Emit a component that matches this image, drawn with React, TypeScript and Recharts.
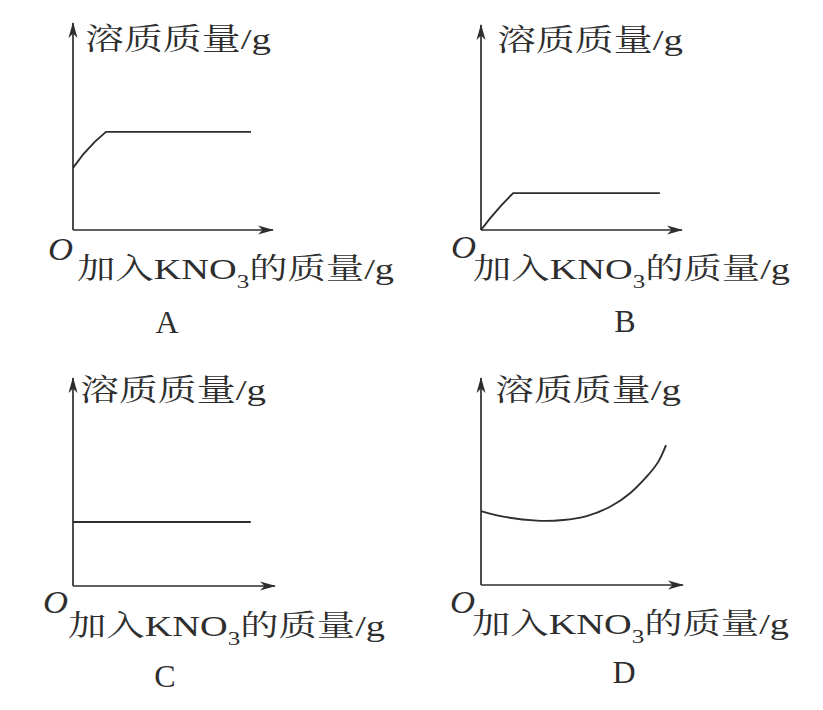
import { LineChart, Line, XAxis, YAxis } from 'recharts';

const FONT = "'Liberation Serif', 'Noto Serif CJK SC', 'Noto Sans CJK SC', serif";
const INK = '#2e2e2e';

const yTitle = '溶质质量/g';
const xTitleHead = '加入KNO';
const xTitleSub = '3';
const xTitleTail = '的质量/g';
const originMark = 'O';

// A: starts above zero, rises, then levels off
const aX = [0, 0.52, 1.1, 1.65, 8.9];
const aY = [3.0, 3.67, 4.27, 4.74, 4.74];
// B: starts at zero, rises, then levels off
const bX = [0, 0.45, 1.0, 1.6, 8.9];
const bY = [0, 0.57, 1.19, 1.8, 1.8];
// C: flat
const cX = [0, 8.8];
const cY = [3.08, 3.08];
// D: dips slightly then climbs
const dX = [0, 1.1, 2.76, 4.07, 5.23, 6.39, 7.38, 8.2, 8.78, 9.16];
const dY = [3.57, 3.3, 3.11, 3.14, 3.33, 3.78, 4.43, 5.23, 5.96, 6.76];

// layout only: chart box, plot margins, text offsets from the origin / plot top
const panels = [
  { name: 'A', xs: aX, ys: aY, curve: 'linear', box: { left: 0, top: 0, w: 410, h: 350 }, margin: { top: 23, left: 73, right: 137, bottom: 120 }, yT: [12, 26], o: [-25, 30], xT: [4, 49], nm: [94, 103] },
  { name: 'B', xs: bX, ys: bY, curve: 'linear', box: { left: 410, top: 0, w: 413, h: 350 }, margin: { top: 25, left: 71, right: 141, bottom: 120 }, yT: [16, 25], o: [-30, 28], xT: [-8, 49], nm: [144, 102] },
  { name: 'C', xs: cX, ys: cY, curve: 'linear', box: { left: 0, top: 350, w: 410, h: 360 }, margin: { top: 28, left: 73, right: 135, bottom: 124 }, yT: [7, 22], o: [-30, 27], xT: [-5, 50], nm: [92, 101] },
  { name: 'D', xs: dX, ys: dY, curve: 'natural', box: { left: 410, top: 350, w: 413, h: 360 }, margin: { top: 28, left: 71, right: 140, bottom: 125 }, yT: [14, 22], o: [-31, 28], xT: [-9, 49], nm: [143, 98] },
];

const AX = 1; // thickness reserved for each axis

function Panel({ p }: { p: (typeof panels)[number] }) {
  const data = p.xs.map((x, i) => ({ x, y: p.ys[i] }));
  const ox = p.margin.left;
  const oy = p.box.h - p.margin.bottom;
  const top = p.margin.top;
  const m = { ...p.margin, left: p.margin.left - AX, bottom: p.margin.bottom - AX };

  const texts = () => (
    <g fontFamily={FONT} fill={INK}>
      <text x={ox + p.yT[0]} y={top + p.yT[1]} fontSize={30} textLength={186} lengthAdjust="spacingAndGlyphs">
        {yTitle}
      </text>
      <text x={ox + p.o[0]} y={oy + p.o[1]} fontSize={32} fontStyle="italic" textLength={25} lengthAdjust="spacingAndGlyphs">
        {originMark}
      </text>
      <text x={ox + p.xT[0]} y={oy + p.xT[1]} fontSize={29} textLength={317} lengthAdjust="spacingAndGlyphs">
        {xTitleHead}
        <tspan fontSize={19} dy={9}>{xTitleSub}</tspan>
        <tspan dy={-9}>{xTitleTail}</tspan>
      </text>
      <text x={ox + p.nm[0]} y={oy + p.nm[1]} fontSize={32} textAnchor="middle">
        {p.name}
      </text>
    </g>
  );

  return (
    <div style={{ position: 'absolute', left: p.box.left, top: p.box.top }}>
      <LineChart width={p.box.w} height={p.box.h} data={data} margin={m}>
        <XAxis
          type="number"
          dataKey="x"
          domain={[0, 10]}
          height={AX}
          tick={false}
          tickLine={false}
          axisLine={{ stroke: INK, strokeWidth: 1.7, markerEnd: 'url(#arrowHead)' }}
          label={{ content: texts }}
        />
        <YAxis
          type="number"
          domain={[0, 10]}
          width={AX}
          tick={false}
          tickLine={false}
          axisLine={{ stroke: INK, strokeWidth: 1.7, markerStart: 'url(#arrowHead)' }}
        />
        <Line dataKey="y" type={p.curve as any} stroke={INK} strokeWidth={1.9} dot={false} isAnimationActive={false} />
      </LineChart>
    </div>
  );
}

export default function App() {
  return (
    <div style={{ position: 'absolute', left: 0, top: 0, width: 823, height: 710, background: '#fff', overflow: 'hidden' }}>
      <svg width={0} height={0} style={{ position: 'absolute' }}>
        <defs>
          <marker
            id="arrowHead"
            viewBox="0 0 16 10"
            refX={15}
            refY={5}
            markerWidth={16}
            markerHeight={10}
            markerUnits="userSpaceOnUse"
            orient="auto-start-reverse"
          >
            <path d="M0,0.5 L16,5 L0,9.5 L4.5,5 Z" fill={INK} />
          </marker>
        </defs>
      </svg>
      {panels.map((p) => (
        <Panel key={p.name} p={p} />
      ))}
    </div>
  );
}
